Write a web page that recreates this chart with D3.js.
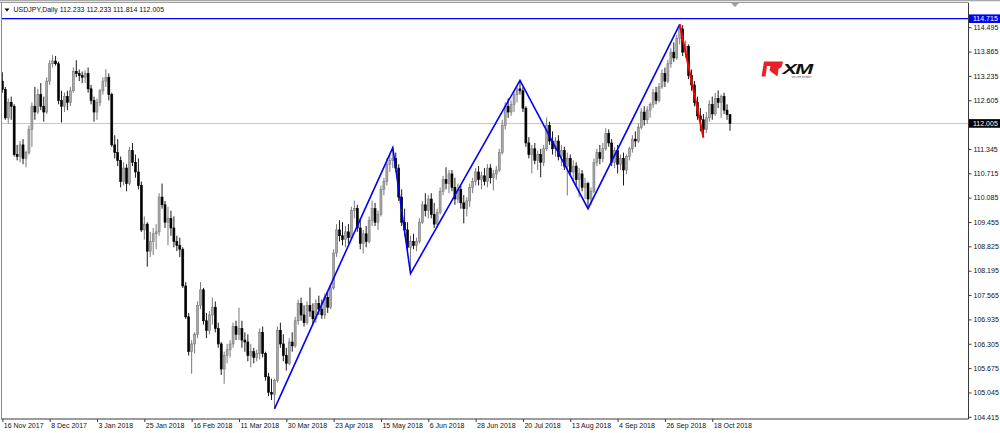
<!DOCTYPE html>
<html><head><meta charset="utf-8">
<script src="https://cdn.jsdelivr.net/npm/d3@7"></script>
<style>
html,body{margin:0;padding:0;background:#fff;overflow:hidden;}
svg{display:block;}
text{font-family:"Liberation Sans",Arial,sans-serif;}
</style></head><body>
<svg id="c" width="1000" height="433"></svg>
<script>
const symbolTitle = "USDJPY,Daily";
const lastQuote = ["112.233", "112.233", "111.814", "112.005"];

const opens = [
113.10,112.88,112.15,112.55,112.45,111.20,111.15,111.45,111.10,111.25,
111.85,112.45,112.30,112.75,112.45,112.30,113.10,113.55,113.62,113.55,
112.60,112.45,112.70,112.55,112.85,113.35,113.30,113.25,113.20,113.30,
112.90,112.60,112.30,112.55,112.85,113.10,113.20,112.75,111.45,111.25,
111.05,110.50,110.85,110.45,111.30,111.00,110.75,110.40,109.25,109.40,
108.70,108.95,109.15,109.20,110.10,109.90,109.45,109.55,109.30,108.95,
108.85,108.75,107.80,107.00,106.10,106.30,106.55,107.30,107.70,106.90,
106.65,107.05,107.25,106.70,106.30,105.65,106.00,106.15,106.30,106.75,
106.55,106.70,106.40,106.35,106.00,106.10,105.95,106.05,106.60,106.05,
105.45,105.05,105.00,105.35,106.65,106.30,106.00,105.80,106.35,106.25,
106.90,107.35,107.05,106.85,107.30,107.15,106.95,107.35,107.20,107.05,
107.50,107.25,107.75,108.65,109.25,109.10,109.00,109.20,109.05,109.75,
109.80,109.30,108.90,109.15,108.95,109.50,109.80,109.45,109.65,110.30,
110.50,110.95,111.05,111.10,110.85,110.10,109.45,109.25,108.80,108.95,
108.85,108.95,109.45,109.90,109.75,110.05,109.65,109.40,109.70,110.25,
110.55,110.45,110.70,110.35,110.05,110.30,109.95,109.80,110.00,110.35,
110.50,110.75,110.55,110.65,110.50,110.85,110.60,110.70,110.80,111.25,
111.95,112.45,112.30,112.50,112.75,112.90,112.85,112.40,111.50,111.20,
111.35,111.05,111.20,111.00,111.35,111.95,111.55,111.35,111.55,111.15,
111.30,110.90,111.10,110.75,110.90,110.55,110.70,110.35,110.45,110.05,
110.25,111.00,111.25,111.10,111.35,111.75,111.50,111.00,111.30,110.95,
111.10,110.80,111.15,111.35,111.60,111.55,111.90,112.30,112.10,112.35,
112.50,112.80,112.60,112.95,113.30,113.10,113.55,113.85,113.70,114.20,
114.45,113.85,114.00,113.25,113.00,112.55,112.20,112.10,111.85,112.15,
112.50,112.25,112.65,112.55,112.70,112.35,112.233];
const highs = [
113.33,112.95,112.65,112.70,112.50,111.45,111.55,111.60,111.30,111.95,
112.55,112.95,112.90,113.05,112.70,113.20,113.65,113.77,113.75,113.60,
112.85,112.80,112.85,112.95,113.45,113.64,113.40,113.35,113.38,113.45,
113.00,112.70,112.65,112.90,113.20,113.41,113.30,112.80,111.70,111.60,
111.15,111.00,110.95,111.40,111.50,111.20,111.10,110.50,109.60,109.45,
109.20,109.30,109.40,110.20,110.45,110.00,109.85,109.75,109.60,109.10,
109.05,108.80,107.90,107.10,106.40,106.60,107.40,107.90,107.75,107.10,
107.15,107.50,107.40,106.85,106.35,106.10,106.30,106.40,106.85,106.90,
107.24,106.90,106.60,106.55,106.30,106.20,106.15,106.70,106.75,106.10,
105.55,105.40,105.40,106.75,106.85,106.55,106.20,106.45,106.60,107.00,
107.45,107.50,107.30,107.40,107.76,107.35,107.45,107.55,107.45,107.60,
107.65,107.85,108.75,109.40,109.50,109.45,109.35,109.40,109.85,110.01,
109.90,109.55,109.25,109.35,109.60,110.01,109.95,109.75,110.40,110.60,
111.10,111.20,111.38,111.25,110.95,110.30,109.80,109.45,109.10,109.15,
109.05,109.55,110.00,110.20,110.15,110.20,109.95,109.80,110.35,110.65,
110.87,110.80,110.80,110.60,110.45,110.40,110.15,110.10,110.45,110.60,
110.85,110.90,110.75,110.85,110.95,110.95,110.80,110.90,111.35,112.10,
112.55,112.65,112.60,112.85,113.00,113.12,112.95,112.45,111.65,111.45,
111.50,111.30,111.35,111.45,112.16,112.05,111.80,111.65,111.70,111.45,
111.40,111.25,111.20,111.05,111.00,110.85,110.80,110.60,110.50,110.35,
111.10,111.35,111.45,111.50,111.88,111.85,111.60,111.40,111.45,111.20,
111.25,111.20,111.40,111.70,111.80,112.00,112.40,112.45,112.45,112.55,
112.90,112.95,113.05,113.40,113.45,113.65,113.95,114.10,114.30,114.57,
114.55,114.15,114.05,113.40,113.10,112.70,112.40,112.25,112.30,112.60,
112.70,112.80,112.86,112.75,112.80,112.50,112.233];
const lows = [
112.80,112.10,112.00,112.10,111.15,111.05,111.00,110.95,110.87,111.20,
111.40,112.10,112.25,112.35,112.05,112.25,113.00,113.45,113.50,112.50,
112.03,112.30,112.35,112.45,112.80,113.20,113.10,113.05,113.05,112.80,
112.50,112.05,112.10,112.45,112.75,112.95,112.60,111.40,111.10,110.90,
110.35,110.40,110.25,110.40,110.90,110.60,110.30,109.20,109.00,108.30,
108.55,108.60,108.75,109.10,109.80,109.30,108.85,109.10,108.80,108.70,
108.55,107.75,106.95,106.00,105.53,106.05,106.45,107.20,106.80,106.45,
106.55,106.80,106.60,106.20,105.50,105.27,105.80,105.95,106.20,106.40,
106.40,106.20,106.10,105.85,105.70,105.80,105.85,105.90,105.95,105.35,
104.95,104.85,104.62,105.30,106.20,105.85,105.61,105.75,106.10,106.20,
106.80,106.90,106.75,106.80,107.00,106.80,106.85,107.05,106.95,106.95,
107.10,107.20,107.70,108.55,108.95,108.85,108.80,108.90,109.00,109.55,
109.20,108.75,108.64,108.80,108.90,109.35,109.35,109.25,109.60,110.15,
110.40,110.75,110.85,110.75,110.00,109.35,109.10,108.70,108.12,108.75,
108.70,108.90,109.40,109.60,109.55,109.55,109.30,109.30,109.65,110.15,
110.30,110.20,110.25,109.90,109.95,109.80,109.42,109.60,109.85,110.20,
110.40,110.40,110.30,110.40,110.35,110.45,110.27,110.55,110.75,111.20,
111.85,112.15,112.20,112.30,112.55,112.75,112.30,111.40,111.10,110.71,
110.95,110.80,110.61,110.90,111.30,111.45,111.20,111.15,111.05,110.90,
110.80,110.14,110.65,110.50,110.40,110.09,110.25,110.05,109.80,109.90,
110.20,110.90,110.95,111.00,111.30,111.40,110.90,110.85,110.71,110.80,
110.40,110.70,111.05,111.25,111.40,111.50,111.85,111.95,112.00,112.15,
112.40,112.50,112.55,112.90,112.95,113.05,113.45,113.60,113.65,114.05,
113.75,113.70,113.15,112.85,112.45,112.10,111.80,111.64,111.75,112.05,
112.10,112.20,112.40,112.15,112.25,112.10,111.814];
const closes = [
112.88,112.15,112.55,112.45,111.20,111.15,111.45,111.10,111.25,111.85,
112.45,112.30,112.75,112.45,112.30,113.10,113.55,113.62,113.55,112.60,
112.45,112.70,112.55,112.85,113.35,113.30,113.25,113.20,113.30,112.90,
112.60,112.30,112.55,112.85,113.10,113.20,112.75,111.45,111.25,111.05,
110.50,110.85,110.45,111.30,111.00,110.75,110.40,109.25,109.40,108.70,
108.95,109.15,109.20,110.10,109.90,109.45,109.55,109.30,108.95,108.85,
108.75,107.80,107.00,106.10,106.30,106.55,107.30,107.70,106.90,106.65,
107.05,107.25,106.70,106.30,105.65,106.00,106.15,106.30,106.75,106.55,
106.70,106.40,106.35,106.00,106.10,105.95,106.05,106.60,106.05,105.45,
105.05,105.00,105.35,106.65,106.30,106.00,105.80,106.35,106.25,106.90,
107.35,107.05,106.85,107.30,107.15,106.95,107.35,107.20,107.05,107.50,
107.25,107.75,108.65,109.25,109.10,109.00,109.20,109.05,109.75,109.80,
109.30,108.90,109.15,108.95,109.50,109.80,109.45,109.65,110.30,110.50,
110.95,111.05,111.10,110.85,110.10,109.45,109.25,108.80,108.95,108.85,
108.95,109.45,109.90,109.75,110.05,109.65,109.40,109.70,110.25,110.55,
110.45,110.70,110.35,110.05,110.30,109.95,109.80,110.00,110.35,110.50,
110.75,110.55,110.65,110.50,110.85,110.60,110.70,110.80,111.25,111.95,
112.45,112.30,112.50,112.75,112.90,112.85,112.40,111.50,111.20,111.35,
111.05,111.20,111.00,111.35,111.95,111.55,111.35,111.55,111.15,111.30,
110.90,111.10,110.75,110.90,110.55,110.70,110.35,110.45,110.05,110.25,
111.00,111.25,111.10,111.35,111.75,111.50,111.00,111.30,110.95,111.10,
110.80,111.15,111.35,111.60,111.55,111.90,112.30,112.10,112.35,112.50,
112.80,112.60,112.95,113.30,113.10,113.55,113.85,113.70,114.20,114.45,
113.85,114.00,113.25,113.00,112.55,112.20,112.10,111.85,112.15,112.50,
112.25,112.65,112.55,112.70,112.35,112.233,112.005];

const xTickIndex = [0,16,32,48,64,80,96,112,128,144,160,176,192,208,224,240];
const xTickLabels = ["16 Nov 2017","8 Dec 2017","3 Jan 2018","25 Jan 2018","16 Feb 2018",
  "11 Mar 2018","30 Mar 2018","23 Apr 2018","15 May 2018","6 Jun 2018","28 Jun 2018",
  "20 Jul 2018","13 Aug 2018","4 Sep 2018","26 Sep 2018","18 Oct 2018"];
const yTickValues = [104.415,105.045,105.675,106.305,106.935,107.565,108.195,108.825,
  109.455,110.085,110.715,111.345,112.605,113.235,113.865,114.495];

const zigzagIndex = [92,132,138,175,198,229];
const zigzagPrice = [104.62,111.38,108.12,113.12,109.80,114.57];
const redLegIndex = [229,237];
const redLegPrice = [114.57,111.64];
const resistanceLevel = 114.715;
const bidPrice = 112.005;

// ---------- drawing ----------
const svg = d3.select("#c");
const W = 1000, H = 433;
const plot = {left:1.5, top:3, right:968.5, bottom:419};

const x = d3.scaleLinear().domain([0, 246]).range([2.33, 2.33 + 246*2.958]);
const y = d3.scaleLinear().domain([104.415, 114.495]).range([416.8, 27.2]);

svg.append("rect").attr("width",W).attr("height",H).attr("fill","#fff");

// window frame top lines
svg.append("rect").attr("x",0).attr("y",0).attr("width",W).attr("height",1).attr("fill","#a9a9a9");
svg.append("rect").attr("x",0).attr("y",1).attr("width",W).attr("height",1).attr("fill","#e6e6e6");
svg.append("rect").attr("x",0).attr("y",2).attr("width",plot.right).attr("height",1).attr("fill","#9c9c9c");

svg.append("defs").append("clipPath").attr("id","clip")
  .append("rect").attr("x",plot.left).attr("y",plot.top)
  .attr("width",plot.right-plot.left).attr("height",plot.bottom-plot.top);

const g = svg.append("g").attr("clip-path","url(#clip)");

// bid line
g.append("line").attr("x1",plot.left).attr("x2",plot.right)
  .attr("y1",Math.round(y(bidPrice))+0.5).attr("y2",Math.round(y(bidPrice))+0.5)
  .attr("stroke","#c8c8c8").attr("stroke-width",1);

// candles
const bars = d3.range(closes.length).map(i => ({i, o:opens[i], h:highs[i], l:lows[i], c:closes[i]}));
const up = d => d.c >= d.o;
const cg = g.append("g");
cg.selectAll("line.wick").data(bars).join("line").attr("class","wick")
  .attr("x1",d=>x(d.i)).attr("x2",d=>x(d.i))
  .attr("y1",d=>y(d.h)).attr("y2",d=>y(d.l))
  .attr("stroke",d=>up(d) ? "#6a6a6a" : "#000").attr("stroke-width",0.9);
const bw = 2.0;
cg.selectAll("rect.body").data(bars).join("rect").attr("class","body")
  .attr("x",d=>x(d.i)-bw/2).attr("width",bw)
  .attr("y",d=>y(Math.max(d.o,d.c)))
  .attr("height",d=>Math.max(0.8, Math.abs(y(d.o)-y(d.c))))
  .attr("fill",d=>up(d) ? "#a8a8a8" : "#000000")
  .attr("stroke",d=>up(d) ? "#7a7a7a" : "#000").attr("stroke-width",0.6);

// resistance line
g.append("line").attr("x1",plot.left).attr("x2",plot.right)
  .attr("y1",y(resistanceLevel)).attr("y2",y(resistanceLevel))
  .attr("stroke","#0000ff").attr("stroke-width",1.3);

// zigzag
const lineGen = d3.line().x(d=>x(d[0])).y(d=>y(d[1]));
g.append("path").datum(zigzagIndex.map((d,k)=>[d,zigzagPrice[k]]))
  .attr("d",lineGen).attr("fill","none").attr("stroke","#0000ff").attr("stroke-width",1.6);
g.append("path").datum(redLegIndex.map((d,k)=>[d,redLegPrice[k]]))
  .attr("d",lineGen).attr("fill","none").attr("stroke","#ff0000").attr("stroke-width",2);

// chart shift marker
svg.append("path").attr("d","M731,3 L739,3 L735,7 Z").attr("fill","#a0a0a0");

// plot frame
svg.append("line").attr("x1",plot.left).attr("x2",plot.left).attr("y1",plot.top).attr("y2",plot.bottom)
  .attr("stroke","#8a8a8a").attr("stroke-width",1);
svg.append("line").attr("x1",plot.left).attr("x2",plot.right).attr("y1",plot.bottom).attr("y2",plot.bottom)
  .attr("stroke","#3a3a3a").attr("stroke-width",1);
svg.append("line").attr("x1",plot.right).attr("x2",plot.right).attr("y1",plot.top).attr("y2",plot.bottom)
  .attr("stroke","#3a3a3a").attr("stroke-width",1);

// y axis
const yAxis = d3.axisRight(y).tickValues(yTickValues).tickSize(3).tickPadding(2)
  .tickFormat(d3.format(".3f"));
const ya = svg.append("g").attr("transform",`translate(${plot.right},0)`).call(yAxis);
ya.select(".domain").remove();
ya.selectAll(".tick line").attr("stroke","#3a3a3a");
ya.selectAll(".tick text").attr("fill","#111").style("font-size","7px")
  .style("font-family",'"Liberation Sans",Arial,sans-serif');

// x axis
const xAxis = d3.axisBottom(x).tickValues(xTickIndex).tickSize(3)
  .tickFormat((d,k)=>xTickLabels[k]);
const xa = svg.append("g").attr("transform",`translate(0,${plot.bottom})`).call(xAxis);
xa.select(".domain").remove();
xa.selectAll(".tick line").attr("stroke","#3a3a3a");
xa.selectAll(".tick text").attr("fill","#111").attr("text-anchor","start")
  .attr("x",1).attr("y",4).style("font-size","7px")
  .style("font-family",'"Liberation Sans",Arial,sans-serif');

// price boxes
function priceBox(val, bg){
  const cy = y(val);
  svg.append("rect").attr("x",plot.right+0.5).attr("y",cy-4.3).attr("width",W-plot.right).attr("height",8.6).attr("fill",bg);
  svg.append("text").attr("x",plot.right+4.5).attr("y",cy).attr("dy","0.34em")
    .attr("fill","#fff").style("font-size","7px").text(d3.format(".3f")(val));
}
priceBox(resistanceLevel, "#0000ff");
priceBox(bidPrice, "#000000");

// header
svg.append("path").attr("d","M4.5,8.5 L9.5,8.5 L7,11.5 Z").attr("fill","#000");
svg.append("text").attr("x",13.5).attr("y",10).attr("dy","0.34em").style("font-size","7px").attr("fill","#111")
  .text(symbolTitle + "  " + lastQuote.join(" "));

// XM logo
const logo = svg.append("g");
logo.append("path").attr("d","M764,61.5 L783,61.5 L781.5,67 L778.5,69 L777.5,76.5 L772,72.5 L769.5,70 L770.5,66 L767,66 L765.5,76.5 L761.5,76.5 Z")
  .attr("fill","#e8202a");
logo.append("text").attr("x",782.5).attr("y",73.5).style("font-size","15.5px").style("font-weight","900")
  .style("font-style","italic").attr("fill","#111").attr("letter-spacing","-1.2")
  .attr("textLength",29).attr("lengthAdjust","spacingAndGlyphs").text("XM");
logo.append("text").attr("x",792).attr("y",77.5).style("font-size","2.6px").attr("fill","#555").text("xm.com member");
</script>
</body></html>
